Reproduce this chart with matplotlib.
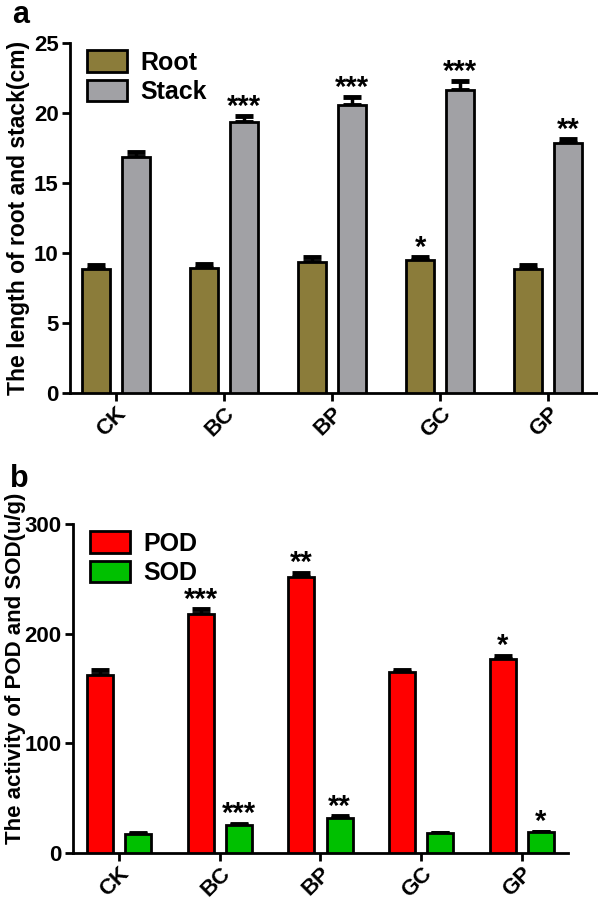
import matplotlib
matplotlib.use("Agg")
import matplotlib.pyplot as plt
import numpy as np
from matplotlib.patches import Patch

plt.rcParams["font.family"] = ["Liberation Sans", "DejaVu Sans"]
plt.rcParams["font.weight"] = "bold"

# ── data ─────────────────────────────────────────────────────────────────────
groups = ["CK", "BC", "BP", "GC", "GP"]

root_len = [8.9, 8.95, 9.4, 9.5, 8.9]
root_err = [0.25, 0.25, 0.35, 0.2, 0.25]
stack_len = [16.9, 19.35, 20.6, 21.65, 17.85]
stack_err = [0.3, 0.45, 0.55, 0.65, 0.3]
root_sig = ["", "", "", "*", ""]
stack_sig = ["", "***", "***", "***", "**"]

pod = [162.5, 218.0, 252.0, 165.0, 177.0]
pod_err = [4.5, 4.0, 3.5, 1.5, 3.0]
sod = [17.5, 26.0, 32.5, 18.0, 19.0]
sod_err = [0.6, 1.0, 1.0, 0.5, 0.6]
pod_sig = ["", "***", "**", "", "*"]
sod_sig = ["", "***", "**", "", "*"]

C_ROOT = "#8B7C3A"
C_STACK = "#A1A1A5"
C_POD = "#FF0000"
C_SOD = "#00C000"


def draw_panel(ax, s1, e1, sig1, c1, s2, e2, sig2, c2, labels, off, width, star_pad):
    x = np.arange(len(groups))
    for xs, vals, errs, sigs, col in ((x - off, s1, e1, sig1, c1),
                                      (x + off, s2, e2, sig2, c2)):
        ax.bar(xs, vals, width, color=col, edgecolor="black", linewidth=2, zorder=3)
        ax.errorbar(xs, vals, yerr=[np.zeros(len(errs)), errs], fmt="none",
                    ecolor="black", elinewidth=2.5, capsize=6.5, capthick=3.5, zorder=2)
        for xi, v, e, s in zip(xs, vals, errs, sigs):
            if s:
                ax.text(xi, v + e + star_pad, s, ha="center", va="bottom",
                        fontsize=21, fontweight="bold")
    ax.set_xticks(x)
    ax.set_xticklabels(groups, rotation=45, ha="right", rotation_mode="anchor",
                       fontsize=16, fontweight="bold")
    for sp in ("top", "right"):
        ax.spines[sp].set_visible(False)
    for sp in ("left", "bottom"):
        ax.spines[sp].set_linewidth(2)
    ax.tick_params(axis="both", width=2, length=6, labelsize=16)
    ax.tick_params(axis="x", pad=1)
    ax.tick_params(axis="y", pad=2)
    handles = [Patch(facecolor=c1, edgecolor="black", linewidth=2),
               Patch(facecolor=c2, edgecolor="black", linewidth=2)]
    ax.legend(handles, labels, loc="upper left", bbox_to_anchor=(0.0, 1.03),
              frameon=False, fontsize=18, handlelength=1.6, handleheight=0.95,
              handletextpad=0.5, labelspacing=0.2, borderaxespad=0.3)


fig = plt.figure(figsize=(5.98, 9.0), dpi=100)

ax1 = fig.add_axes([0.117, 0.563, 0.881, 0.389])
draw_panel(ax1, root_len, root_err, root_sig, C_ROOT,
           stack_len, stack_err, stack_sig, C_STACK,
           ["Root", "Stack"], 0.185, 0.255, -0.35)
ax1.set_xlim(-0.426, 4.45)
ax1.set_ylim(0, 25)
ax1.set_yticks([0, 5, 10, 15, 20, 25])
ax1.set_ylabel("The length of root and stack(cm)", fontsize=16.5, fontweight="bold",
               labelpad=3)
fig.text(0.02, 0.983, "a", fontsize=22, fontweight="bold", va="center")

ax2 = fig.add_axes([0.122, 0.052, 0.828, 0.366])
draw_panel(ax2, pod, pod_err, pod_sig, C_POD,
           sod, sod_err, sod_sig, C_SOD,
           ["POD", "SOD"], 0.19, 0.258, -4.0)
ax2.set_xlim(-0.457, 4.46)
ax2.set_ylim(0, 300)
ax2.set_yticks([0, 100, 200, 300])
ax2.set_ylabel("The activity of POD and SOD(u/g)", fontsize=16, fontweight="bold")
ax2.yaxis.set_label_coords(-0.095, 0.56)
fig.text(0.017, 0.468, "b", fontsize=22, fontweight="bold", va="center")

fig.savefig("out.png", dpi=100)
